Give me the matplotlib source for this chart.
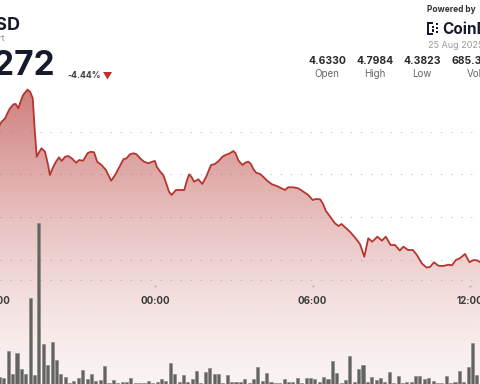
import numpy as np
import matplotlib
matplotlib.use("Agg")
import matplotlib.pyplot as plt
from matplotlib.patches import PathPatch, Rectangle, Polygon
from matplotlib.transforms import blended_transform_factory

plt.rcParams['font.family'] = ['Inter', 'DejaVu Sans']

# price trace, minutes after 18:00 (24 Aug)
price_min = [0, 10, 18, 23, 29, 37, 42, 48, 53, 59, 65, 69, 75, 81, 85, 90, 96, 101,
             109, 116, 120, 128, 134, 141, 147, 155, 162, 170, 180, 187, 196, 206,
             213, 221, 228, 238, 248, 260, 269, 280, 288, 295, 303, 311, 318, 326,
             335, 345, 354, 360, 364, 372, 379, 387, 392, 398, 408, 417, 427, 432,
             438, 444, 449, 459, 468, 477, 484, 488, 497, 506, 514, 521, 531, 539,
             544, 550, 554, 560, 566, 573, 579, 585, 591, 600, 607, 617, 627, 638,
             649, 657, 664, 676, 687, 699, 710, 720, 728, 737, 743, 750, 760, 771,
             779, 786, 794, 805, 817, 828, 838, 847, 856, 868, 878, 887, 898, 908,
             919, 927, 938, 949, 958, 969, 980, 988, 997, 1007, 1018, 1030, 1038,
             1047, 1056, 1068, 1078, 1087, 1096, 1102]
price = [4.7060, 4.7234, 4.7313, 4.7430, 4.7547, 4.7641, 4.7648, 4.7547, 4.7701,
         4.7858, 4.7935, 4.7984, 4.7935, 4.7781, 4.7117, 4.6415, 4.6532, 4.6612,
         4.6532, 4.6221, 4.5988, 4.6182, 4.6299, 4.6401, 4.6315, 4.6415, 4.6432,
         4.6378, 4.6275, 4.6338, 4.6322, 4.6495, 4.6532, 4.6518, 4.6299, 4.6221,
         4.6105, 4.5854, 4.5988, 4.6198, 4.6355, 4.6378, 4.6472, 4.6495, 4.6472,
         4.6378, 4.6299, 4.6261, 4.6299, 4.6315, 4.6182, 4.6065, 4.5988, 4.5754,
         4.5597, 4.5520, 4.5637, 4.5637, 4.5637, 4.5831, 4.6004, 4.5934, 4.5831,
         4.5887, 4.5777, 4.5948, 4.6121, 4.6221, 4.6245, 4.6322, 4.6415, 4.6455,
         4.6495, 4.6549, 4.6495, 4.6338, 4.6285, 4.6221, 4.6275, 4.6299, 4.6245,
         4.6121, 4.6041, 4.6011, 4.5948, 4.5847, 4.5770, 4.5730, 4.5677, 4.5637,
         4.5700, 4.5700, 4.5677, 4.5597, 4.5520, 4.5403, 4.5427, 4.5419, 4.5326,
         4.5153, 4.5013, 4.4858, 4.4795, 4.4842, 4.4765, 4.4662, 4.4522, 4.4374,
         4.4077, 4.4508, 4.4428, 4.4545, 4.4452, 4.4545, 4.4351, 4.4351, 4.4222,
         4.4311, 4.4234, 4.4234, 4.4117, 4.3923, 4.3823, 4.3837, 4.3947, 4.3867,
         4.3860, 4.3890, 4.3876, 4.4000, 4.4040, 4.4141, 4.3947, 4.4000, 4.3989,
         4.3953]

# 10-minute volume bars (relative), starting 18:00
vol_start = 0
vol = [7.3, 5.7, 33.3, 9.7, 30.7, 14.7, 10, 86.3, 8.7, 161, 39.7, 19, 41.7, 24, 10,
       7.3, 1.3, 3.3, 5.7, 14, 4.7, 10, 3.3, 4, 18, 0.5, 4, 1.3, 2.3, 2, 5.7, 1.3,
       0.7, 0.5, 3, 0.5, 1.7, 4.7, 2.7, 20.7, 9.7, 2.3, 9, 2, 5, 12.7, 0.7, 12, 15.7,
       9.7, 9.7, 0.5, 8.7, 2.3, 2,
       2.3, 4.7, 1, 4.7, 17, 3, 10.7, 2.3, 1, 1.3, 5, 2, 2.3, 6.3, 0.5, 6.3, 6.3, 5,
       2.3, 7.3, 5.3, 22.7, 11, 0.7, 4, 28.3, 2.3, 14.7, 18.7, 2.3, 7.3, 4, 6.3, 2.3,
       12.3, 1.3, 8.3, 0.5, 2.3, 1.7, 8.3, 8.3, 5.3, 6, 2.7, 0.5, 1, 8, 0.5, 2.3,
       12.7, 2.3, 16.7, 40.7, 9]
vol_min = vol_start + 5 + 10 * np.arange(len(vol))

tick_min = [0, 360, 720, 1080]
tick_labels = ['18:00', '00:00', '06:00', '12:00']
grid_levels = [4.4, 4.5, 4.6, 4.7]

stat_values = ['4.6330', '4.7984', '4.3823', '685.35K']
stat_names = ['Open', 'High', 'Low', 'Vol']

W, H = 480, 384
fig = plt.figure(figsize=(4.8, 3.84), dpi=100)
fig.patch.set_facecolor('white')


def fx(px):
    return px / W


def fy(py):
    return 1 - py / H


xlim = (6.2, 1102.1)
ylim = (4.1101, 5.0079)

ax = fig.add_axes([0, 0, 1, 1])
ax.set_xlim(*xlim)
ax.set_ylim(*ylim)
ax.axis('off')

# dotted grid
for g in grid_levels:
    ax.axhline(g, color='#bdbdbd', lw=0.7, ls=(0, (1.2, 9.1)), zorder=1)
ax.axhline(4.3533, color='#c8c8c8', lw=0.7, ls=(0, (1.2, 9.1)), zorder=1)

# gradient fill under price line
rows = np.arange(H)
s = np.clip((H - rows) / 296.0, 0, 1)
alpha = 0.07 + 0.67 * s ** 1.43
grad = np.zeros((H, 2, 4))
grad[..., 0] = 190 / 255
grad[..., 1] = 80 / 255
grad[..., 2] = 77 / 255
grad[..., 3] = alpha[:, None]
im = ax.imshow(grad, extent=[xlim[0], xlim[1], ylim[0], ylim[1]], origin='upper',
               aspect='auto', zorder=2, interpolation='bilinear')
poly = ax.fill_between(price_min, price, ylim[0], facecolor='none', edgecolor='none')
clip = PathPatch(poly.get_paths()[0], transform=ax.transData, facecolor='none',
                 edgecolor='none')
ax.add_patch(clip)
im.set_clip_path(clip)
ax.set_xlim(*xlim)
ax.set_ylim(*ylim)

ax.plot(price_min, price, color='#b5352f', lw=1.3, zorder=4, solid_joinstyle='round')

# time axis labels
tr = blended_transform_factory(ax.transData, ax.transAxes)
for m, lab in zip(tick_min, tick_labels):
    ax.plot([m], [fy(286)], marker='s', ms=1.2, color='#a8a8a8', mec='none',
            transform=tr, zorder=5)
    ax.text(m, fy(301), lab, transform=tr, ha='center', va='center', fontsize=7,
            fontweight='bold', color='#3a3a3a', zorder=5)

# volume bars
axv = fig.add_axes([0, 0, 1, 1], facecolor='none')
axv.set_xlim(*xlim)
axv.set_ylim(0, max(vol) / 0.42)
axv.bar(vol_min, vol, width=7, color='#63645f', edgecolor='#8d8d89', lw=0.5,
        zorder=3)
axv.axis('off')

# header, left
fig.text(fx(21), fy(25), 'USD', ha='right', va='center', fontsize=13,
         fontweight='bold', color='#161b2b')
fig.text(fx(5.5), fy(38.5), 'Chart', ha='right', va='center', fontsize=6,
         color='#8a8a8a')
fig.text(fx(55), fy(66), '4.4272', ha='right', va='center', fontsize=24,
         fontweight='bold', color='#161b2b')
fig.text(fx(67), fy(75.5), '-4.44%', ha='left', va='center', fontsize=6.3,
         fontweight='bold', color='#3c3c3c')
fig.patches.append(Polygon([[fx(103), fy(72)], [fx(112), fy(72)], [fx(107.5), fy(79.5)]],
                           closed=True, transform=fig.transFigure,
                           facecolor='#b8332c', edgecolor='none'))

# header, right
fig.text(fx(427), fy(10), 'Powered by', ha='left', va='center', fontsize=6,
         fontweight='bold', color='#333333')
for (x0, y0, w, h) in [(427, 22, 2.2, 13), (427, 22, 6, 2.2), (427, 32.8, 6, 2.2),
                       (431.5, 26, 2.2, 2.2), (431.5, 29.5, 2.2, 2.2),
                       (436, 23, 2.2, 2.2), (436, 27, 2.2, 2.2), (436, 31, 2.2, 2.2)]:
    fig.patches.append(Rectangle((fx(x0), fy(y0 + h)), w / W, h / H,
                                 transform=fig.transFigure, facecolor='#161b2b',
                                 edgecolor='none'))
fig.text(fx(442), fy(29), 'CoinDesk', ha='left', va='center', fontsize=11,
         fontweight='bold', color='#161b2b')
fig.text(fx(428), fy(46), '25 Aug 2025', ha='left', va='center', fontsize=6.5,
         color='#9a9a9a')

stat_x = [327, 375, 422, 474]
for x, v, n in zip(stat_x, stat_values, stat_names):
    fig.text(fx(x), fy(61), v, ha='center', va='center', fontsize=7.5,
             fontweight='bold', color='#2a2a2a')
    fig.text(fx(x), fy(74), n, ha='center', va='center', fontsize=7,
             color='#666666')

fig.savefig('out.png', dpi=100)
